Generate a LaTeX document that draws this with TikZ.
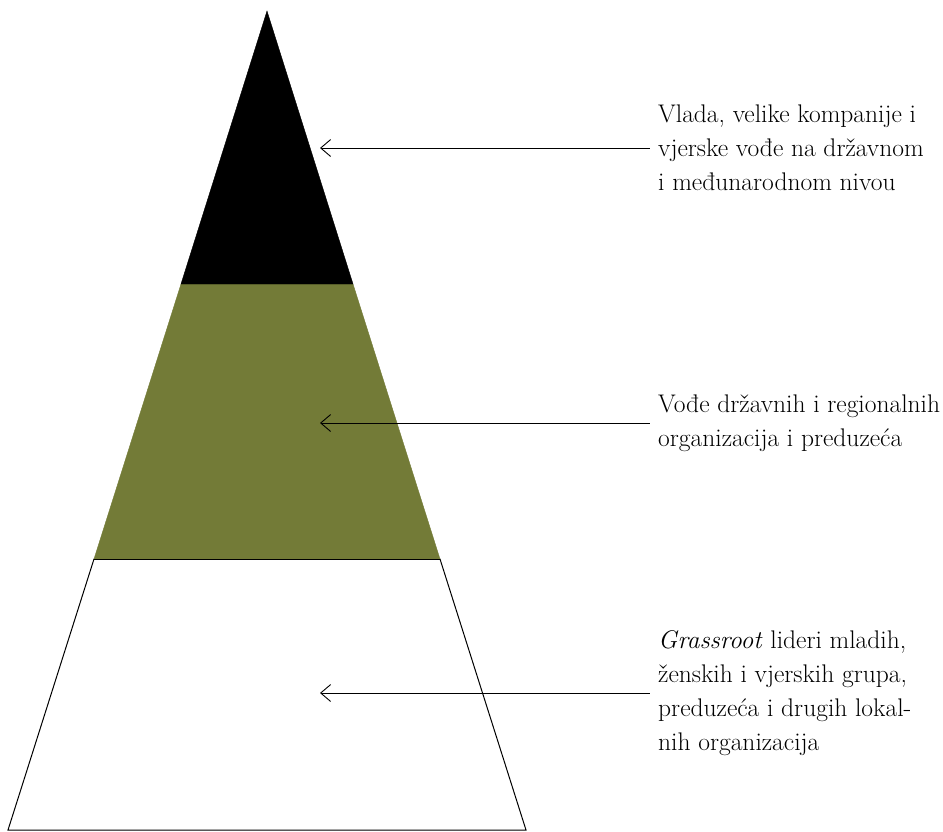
\documentclass[tikz,border=0pt]{standalone}
\usetikzlibrary{positioning}
\usetikzlibrary{arrows.meta}
\definecolor{olivelvl}{RGB}{115,123,55}
\tikzset{
    lvltop/.style = {fill=black,draw=black,thin},
    lvlmid/.style = {fill=olivelvl,draw=olivelvl,thin},
    lvlbot/.style = {fill=white,draw=black,line width=1pt},
    lvltext/.style = {anchor=west,align=left,inner xsep=8pt,inner ysep=0pt,font=\fontsize{25.5}{34}\selectfont},
    edgel/.style = {{Straight Barb[length=10pt,width=17pt]}-,line width=0.9pt,black}
}

\begin{document}
\begin{tikzpicture}[x=1pt,y=-1pt]
  \useasboundingbox (0,0) rectangle (943,831);
  % pyramid levels
  \draw[lvlbot] (94,559) -- (440,559) -- (526,830) -- (8,830) -- cycle;
  \draw[lvlmid] (181,284) -- (353,284) -- (440,559) -- (94,559) -- cycle;
  \draw[black,line width=1pt] (94,559) -- (440,559);
  \draw[lvltop] (267,11) -- (353,284) -- (181,284) -- cycle;
  % arrow targets
  \coordinate (p1) at (320,148);
  \coordinate (p2) at (320,423);
  \coordinate (p3) at (320,693);
  % labels
  \node[lvltext] (t1) at (650,148) {Vlada, velike kompanije i\\vjerske vođe na državnom\\i međunarodnom nivou};
  \node[lvltext] (t2) at (650,423) {Vođe državnih i regionalnih\\organizacija i preduzeća};
  \node[lvltext] (t3) at (650,693) {\textit{Grassroot} lideri mladih,\\ženskih i vjerskih grupa,\\preduzeća i drugih lokal-\\nih organizacija};
  \draw[edgel] (p1) -- (t1.west);
  \draw[edgel] (p2) -- (t2.west);
  \draw[edgel] (p3) -- (t3.west);
\end{tikzpicture}
\end{document}
